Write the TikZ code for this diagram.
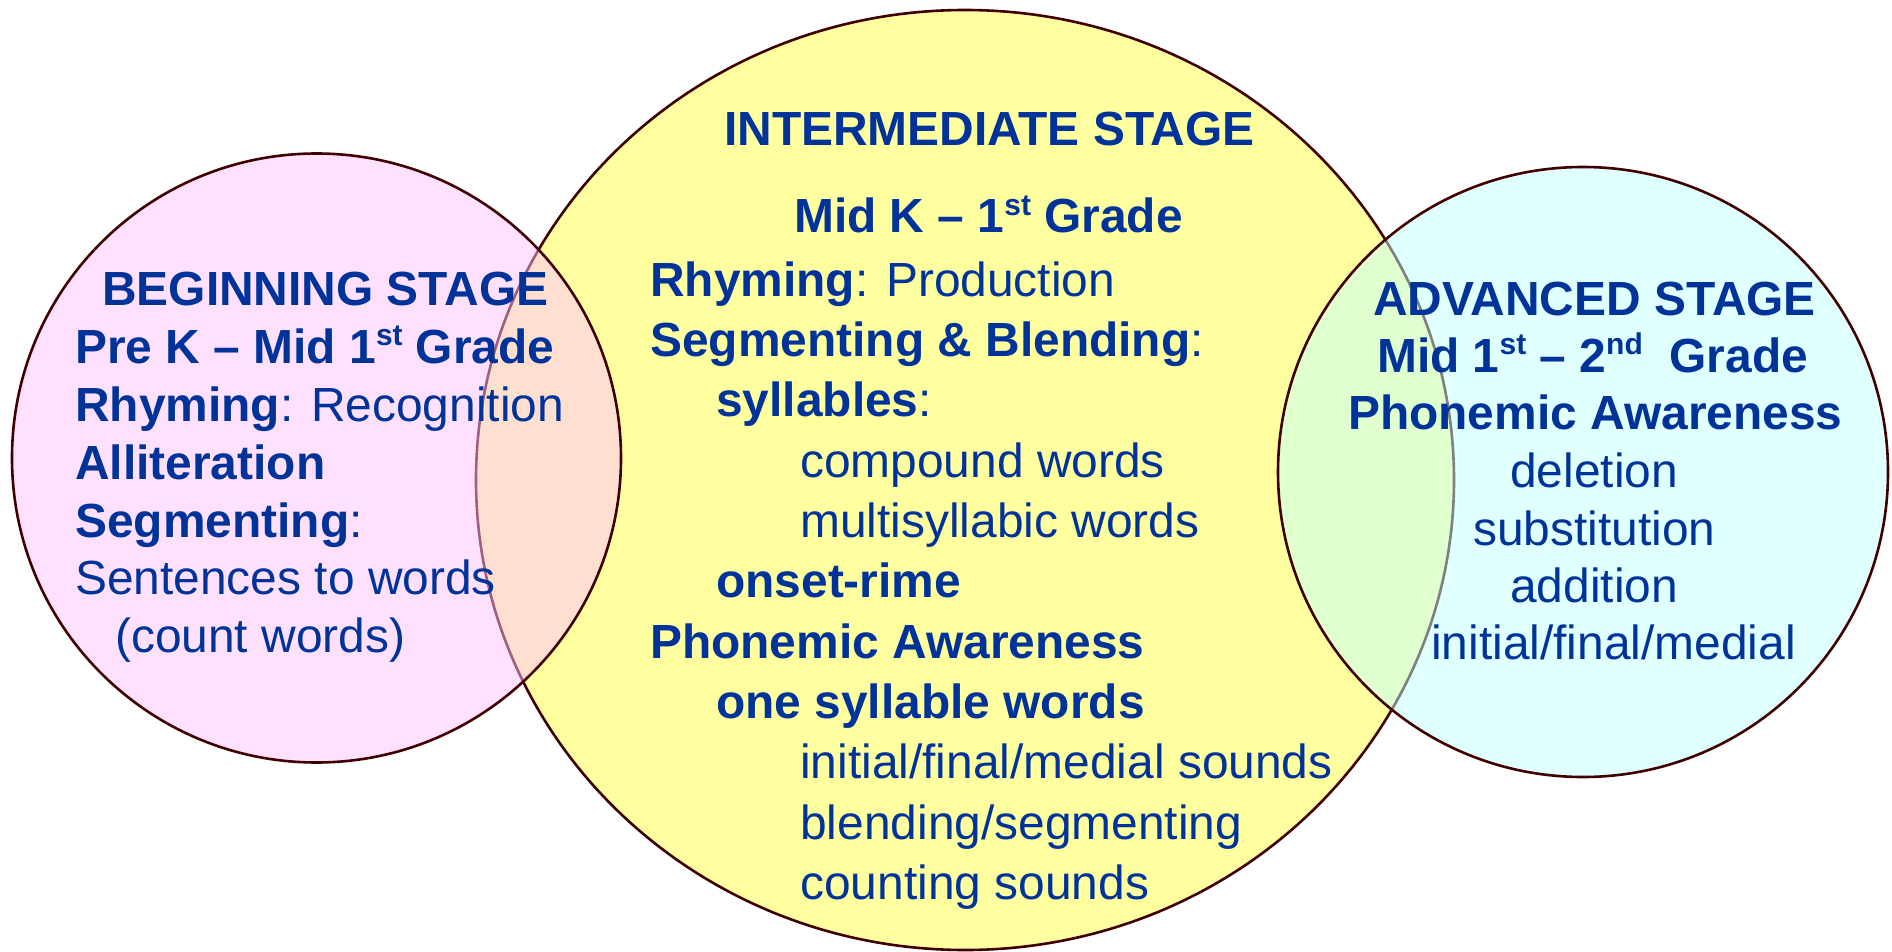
\documentclass[tikz,border=0pt]{standalone}
\usepackage{fontspec}
\setmainfont{Liberation Sans}
\definecolor{txt}{RGB}{0,51,153}
\definecolor{edge}{RGB}{64,0,0}
\definecolor{yellowf}{RGB}{255,255,160}
\definecolor{pinkf}{RGB}{255,193,255}
\definecolor{cyanf}{RGB}{193,255,255}
\newcommand\supx[1]{\raisebox{0.36em}{\fontsize{30}{30}\selectfont #1}}
\tikzset{
  lbl/.style={anchor=base west, inner sep=0pt, text=txt, font=\fontsize{47.9}{56}\selectfont},
  ring/.style={draw=edge, line width=2.6pt},
}
\begin{document}
\begin{tikzpicture}[x=1pt,y=-1pt]
\useasboundingbox (0,0) rectangle (1892,952);
% yellow (intermediate)
\fill[yellowf] (965,480) ellipse [x radius=489, y radius=470];
\draw[ring] (965,480) ellipse [x radius=489, y radius=470];
% pink (beginning)
\fill[pinkf, fill opacity=0.5] (316.5,458) circle [radius=304.5];
\draw[ring] (316.5,458) circle [radius=304.5];
% cyan (advanced)
\fill[cyanf, fill opacity=0.5] (1583,472) circle [radius=305];
\draw[ring] (1583,472) circle [radius=305];

% beginning stage text
\node[lbl] (b1) at (102,305) {\bfseries BEGINNING STAGE};
\node[lbl] (b2) at (75,363) {\bfseries Pre K – Mid 1\supx{st} Grade};
\node[lbl] (b3) at (75,421) {\textbf{Rhyming}: Recognition};
\node[lbl] (b4) at (75,479) {\bfseries Alliteration};
\node[lbl] (b5) at (75,537) {\textbf{Segmenting}:};
\node[lbl] (b6) at (75,594) {Sentences to words};
\node[lbl] (b7) at (115,652) {(count words)};

% intermediate stage text
\node[lbl] (i1) at (724,146) {\bfseries INTERMEDIATE STAGE};
\node[lbl] (i2) at (794,233) {\bfseries Mid K – 1\supx{st} Grade};
\node[lbl] (i3) at (650,296) {\textbf{Rhyming}: Production};
\node[lbl] (i4) at (650,356) {\textbf{Segmenting \& Blending}:};
\node[lbl] (i5) at (716,416) {\textbf{syllables}:};
\node[lbl] (i6) at (800,477) {compound words};
\node[lbl] (i7) at (800,537) {multisyllabic words};
\node[lbl] (i8) at (716,597) {\bfseries onset-rime};
\node[lbl] (i9) at (650,658) {\bfseries Phonemic Awareness};
\node[lbl] (i10) at (716,718) {\bfseries one syllable words};
\node[lbl] (i11) at (800,778) {initial/final/medial sounds};
\node[lbl] (i12) at (800,839) {blending/segmenting};
\node[lbl] (i13) at (800,899) {counting sounds};

% advanced stage text
\node[lbl] (a1) at (1373,315) {\bfseries ADVANCED STAGE};
\node[lbl] (a2) at (1377,372) {\bfseries Mid 1\supx{st} – 2\supx{nd}\ \ Grade};
\node[lbl] (a3) at (1348,429) {\bfseries Phonemic Awareness};
\node[lbl] (a4) at (1510,487) {deletion};
\node[lbl] (a5) at (1473,545) {substitution};
\node[lbl] (a6) at (1510,602) {addition};
\node[lbl] (a7) at (1431,659) {initial/final/medial};
\end{tikzpicture}
\end{document}
